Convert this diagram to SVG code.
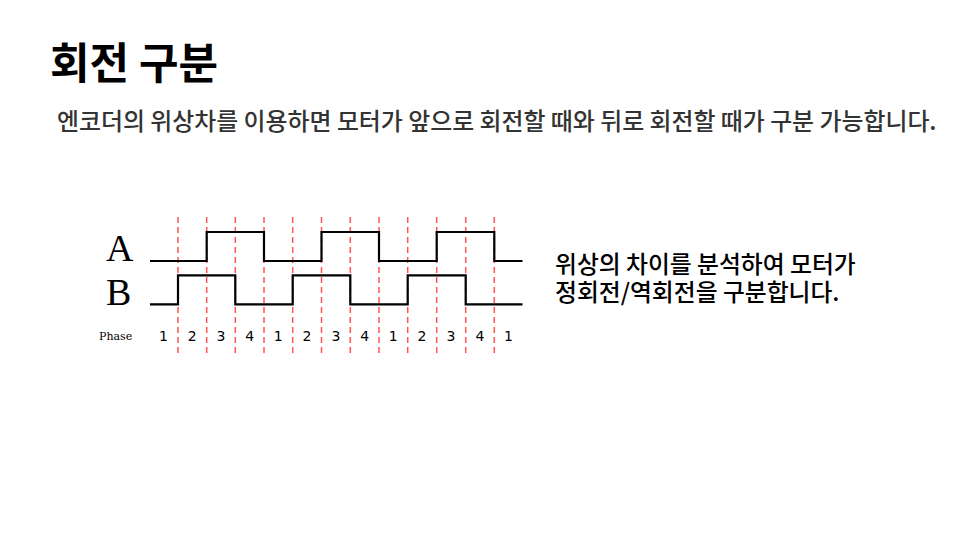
<svg xmlns="http://www.w3.org/2000/svg" width="960" height="540" viewBox="0 0 960 540">
<style>
.kr{font-family:"Noto Sans CJK KR","Noto Sans",sans-serif}
.grid{stroke:#ff5555;stroke-width:1.5;stroke-dasharray:6,4}
.wave{fill:none;stroke:#000;stroke-width:2.2}
.ph{font-family:"DejaVu Sans",sans-serif;font-size:14px;text-anchor:middle}
.ser{font-family:"Liberation Serif","DejaVu Serif",serif}
</style>
<rect width="960" height="540" fill="#fff"/>
<g id="title"><text class="kr" x="50" y="79" font-size="43" font-weight="bold" fill="#000">회전 구분</text></g>
<g id="subtitle"><text class="kr" x="57" y="130" font-size="23.9" font-weight="500" fill="#333">엔코더의 위상차를 이용하면 모터가 앞으로 회전할 때와 뒤로 회전할 때가 구분 가능합니다.</text></g>
<g id="grid">
<line class="grid" x1="178" y1="217" x2="178" y2="356"/>
<line class="grid" x1="206.7" y1="217" x2="206.7" y2="356"/>
<line class="grid" x1="235.3" y1="217" x2="235.3" y2="356"/>
<line class="grid" x1="264" y1="217" x2="264" y2="356"/>
<line class="grid" x1="292.7" y1="217" x2="292.7" y2="356"/>
<line class="grid" x1="321.5" y1="217" x2="321.5" y2="356"/>
<line class="grid" x1="350.3" y1="217" x2="350.3" y2="356"/>
<line class="grid" x1="379" y1="217" x2="379" y2="356"/>
<line class="grid" x1="407.7" y1="217" x2="407.7" y2="356"/>
<line class="grid" x1="436.7" y1="217" x2="436.7" y2="356"/>
<line class="grid" x1="465.7" y1="217" x2="465.7" y2="356"/>
<line class="grid" x1="494.3" y1="217" x2="494.3" y2="356"/>
</g>
<g id="waveA">
<text class="ser" x="106" y="261" font-size="38">A</text>
<polyline class="wave" points="150,261 206.7,261 206.7,232 264,232 264,261 321.5,261 321.5,232 379,232 379,261 436.7,261 436.7,232 494.3,232 494.3,261 522.5,261"/>
</g>
<g id="waveB">
<text class="ser" x="106" y="304.5" font-size="38">B</text>
<polyline class="wave" points="150,304.3 178,304.3 178,275.3 235.3,275.3 235.3,304.3 292.7,304.3 292.7,275.3 350.3,275.3 350.3,304.3 407.7,304.3 407.7,275.3 465.7,275.3 465.7,304.3 522.5,304.3"/>
</g>
<g id="phases">
<text x="99" y="340" font-family="DejaVu Serif, serif" font-size="11">Phase</text>
<text class="ph" x="163.5" y="341">1</text>
<text class="ph" x="192.3" y="341">2</text>
<text class="ph" x="221" y="341">3</text>
<text class="ph" x="249.7" y="341">4</text>
<text class="ph" x="278.3" y="341">1</text>
<text class="ph" x="307" y="341">2</text>
<text class="ph" x="336" y="341">3</text>
<text class="ph" x="364.7" y="341">4</text>
<text class="ph" x="393.3" y="341">1</text>
<text class="ph" x="422" y="341">2</text>
<text class="ph" x="451" y="341">3</text>
<text class="ph" x="480" y="341">4</text>
<text class="ph" x="508.5" y="341">1</text>
</g>
<g id="note">
<text class="kr" font-size="23.8" font-weight="500" fill="#000"><tspan x="555" y="273">위상의 차이를 분석하여 모터가</tspan><tspan x="555" y="301">정회전/역회전을 구분합니다.</tspan></text>
</g>
</svg>
